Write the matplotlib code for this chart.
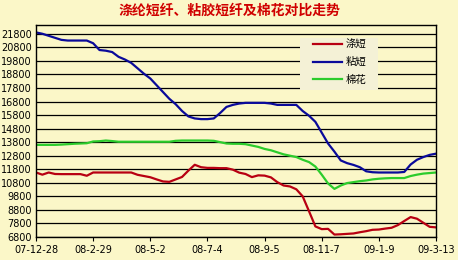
import matplotlib.pyplot as plt
import matplotlib.patches as mpatches
import pandas as pd

# === Данные (недельные значения) ===
dates = pd.date_range("2007-12-28", periods=64, freq="7D")

tick_labels = ["07-12-28", "08-2-29", "08-5-2", "08-7-4",
               "08-9-5", "08-11-7", "09-1-9", "09-3-13"]

polyester = [11560, 11400, 11560, 11450, 11440, 11440, 11440, 11440, 11320, 11560,
             11560, 11560, 11560, 11560, 11560, 11560, 11390, 11300, 11210, 11050,
             10900, 10870, 11050, 11230, 11700, 12130, 11950, 11900, 11900, 11880,
             11880, 11770, 11550, 11450, 11220, 11350, 11330, 11200, 10850, 10600,
             10530, 10320, 9800, 8700, 7580, 7380, 7400, 6980, 7000, 7030,
             7060, 7150, 7230, 7330, 7350, 7420, 7480, 7680, 7980, 8270,
             8150, 7850, 7550, 7510]

viscose = [21900, 21800, 21650, 21500, 21350, 21300, 21300, 21300, 21300, 21100,
           20600, 20550, 20450, 20100, 19900, 19650, 19250, 18850, 18500, 18000,
           17500, 17000, 16600, 16100, 15700, 15550, 15500, 15500, 15550, 15950,
           16400, 16550, 16650, 16700, 16700, 16700, 16700, 16650, 16550, 16550,
           16550, 16550, 16100, 15750, 15300, 14500, 13700, 13100, 12450, 12250,
           12120, 11950, 11650, 11580, 11560, 11560, 11560, 11560, 11600, 12150,
           12500, 12700, 12860, 12950]

cotton = [13600, 13600, 13600, 13600, 13620, 13650, 13680, 13700, 13720, 13850,
          13870, 13920, 13880, 13830, 13830, 13830, 13830, 13830, 13830, 13830,
          13830, 13830, 13900, 13920, 13920, 13920, 13920, 13920, 13900, 13800,
          13700, 13680, 13680, 13650, 13550, 13450, 13300, 13200, 13050, 12900,
          12800, 12700, 12500, 12330, 12000, 11400, 10750, 10350, 10600, 10780,
          10850, 10920, 10970, 11050, 11100, 11130, 11150, 11150, 11150, 11300,
          11400, 11480, 11520, 11560]

# === Оформление ===
plt.rcParams['font.family'] = ['Noto Sans CJK SC', 'DejaVu Sans']
BG = '#fbf7c8'

fig = plt.figure(figsize=(4.58, 2.6), dpi=100, facecolor=BG)
ax = fig.add_axes([0.0786, 0.0885, 0.8734, 0.8155], facecolor=BG)

x = list(range(len(dates)))
ax.plot(x, polyester, color='#b80012', lw=1.6, label='涤短')
ax.plot(x, viscose, color='#0a0a9a', lw=1.6, label='粘短')
ax.plot(x, cotton, color='#2ccc2c', lw=1.6, label='棉花')

ax.set_xlim(0, len(dates) - 1)
ax.set_ylim(6800, 22450)
ax.set_yticks(range(6800, 22800, 1000))
ax.set_xticks(range(0, len(dates), 9))
ax.set_xticklabels(tick_labels)
ax.tick_params(axis='y', length=0, labelsize=7, pad=3, labelfontfamily='DejaVu Sans')
ax.tick_params(axis='x', length=3, direction='out', labelsize=7, pad=3, color='black',
               labelfontfamily='DejaVu Sans')
ax.grid(axis='y', color='black', lw=0.9)
ax.set_axisbelow(True)
for s in ax.spines.values():
    s.set_color('black')
    s.set_linewidth(1)

fig.text(0.5, 0.96, "涤纶短纤、粘胶短纤及棉花对比走势", ha='center', va='center',
         color='#d00000', fontsize=10, fontweight='bold')

# фон легенды (светлая плашка без рамки)
ax.add_patch(mpatches.Rectangle((0.66, 0.693), 0.195, 0.245, transform=ax.transAxes,
                                facecolor='#f4f1d6', edgecolor='none', zorder=2.5))
ax.legend(loc='upper left', bbox_to_anchor=(0.685, 0.945), fontsize=7.5,
          frameon=False, handlelength=2.8, labelspacing=0.75,
          borderpad=0.25, handletextpad=0.4, borderaxespad=0)

fig.savefig("out.png", dpi=100, facecolor=BG)
